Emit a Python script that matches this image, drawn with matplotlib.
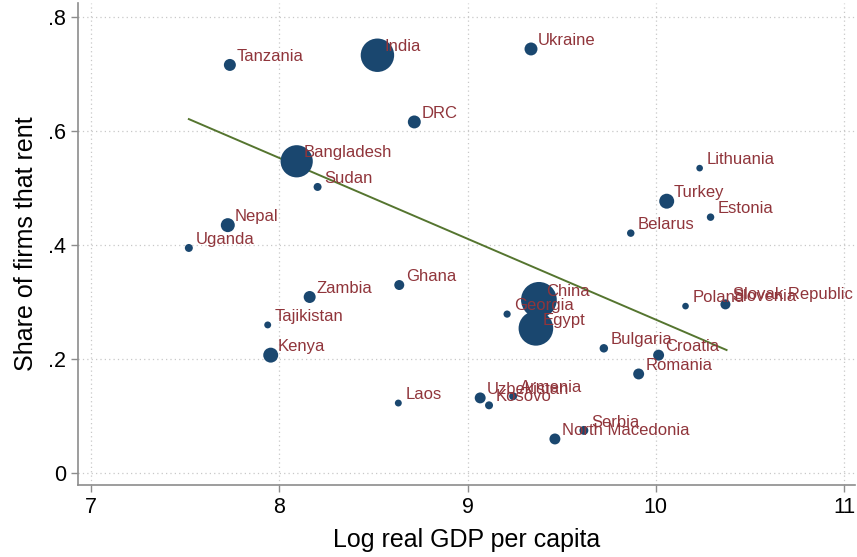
import matplotlib
matplotlib.use("Agg")
import matplotlib.pyplot as plt
import numpy as np

plt.rcParams['font.family'] = ['Liberation Sans', 'DejaVu Sans']

# country data
countries = ["Tanzania", "India", "Ukraine", "DRC", "Bangladesh", "Sudan",
             "Lithuania", "Turkey", "Estonia", "Belarus", "Nepal", "Uganda",
             "Ghana", "Zambia", "China", "Georgia", "Egypt", "Poland",
             "Slovenia", "Slovak Republic", "Tajikistan", "Kenya", "Bulgaria",
             "Croatia", "Romania", "Laos", "Uzbekistan", "Kosovo", "Armenia",
             "Serbia", "North Macedonia"]
log_gdp = [7.737, 8.521, 9.337, 8.717, 8.092, 8.203,
           10.233, 10.058, 10.291, 9.867, 7.726, 7.519,
           8.637, 8.161, 9.379, 9.210, 9.363, 10.158,
           10.370, 10.372, 7.938, 7.954, 9.724,
           10.015, 9.909, 8.632, 9.067, 9.114, 9.242,
           9.618, 9.464]
share_rent = [0.716, 0.733, 0.744, 0.616, 0.547, 0.502,
              0.535, 0.477, 0.449, 0.421, 0.435, 0.395,
              0.330, 0.309, 0.304, 0.279, 0.254, 0.293,
              0.296, 0.298, 0.260, 0.207, 0.219,
              0.207, 0.174, 0.123, 0.132, 0.119, 0.135,
              0.075, 0.060]
# marker weights (relative number of firms)
weight = [36, 280, 42, 42, 260, 16,
          11, 56, 14, 14, 49, 16,
          25, 36, 320, 13, 300, 11,
          25, 12, 12, 56, 18,
          30, 30, 12, 30, 16, 16,
          20, 30]

# linear fit line
fit_x = [7.519, 10.376]
fit_y = [0.621, 0.216]

navy = "#1a476f"
maroon = "#90353b"
green = "#55752f"
axcol = "#8c8c8c"

fig = plt.figure(figsize=(8.57, 5.57), dpi=100)
ax = fig.add_axes([0.091, 0.129, 0.907, 0.866])

ax.scatter(log_gdp, share_rent, s=np.array(weight) * 2.07, color=navy,
           edgecolors='none', zorder=3)
ax.plot(fit_x, fit_y, color=green, lw=1.4, zorder=2)

for name, x, y in zip(countries, log_gdp, share_rent):
    ax.annotate(name, (x, y), xytext=(5, 6), textcoords='offset points',
                ha='left', va='center', color=maroon, fontsize=12, zorder=4)

ax.set_xlim(6.93, 11.06)
ax.set_ylim(-0.021, 0.825)
ax.set_xticks([7, 8, 9, 10, 11])
ax.set_yticks([0, 0.2, 0.4, 0.6, 0.8])
ax.set_yticklabels(["0", ".2", ".4", ".6", ".8"])
ax.tick_params(labelsize=15.5, color=axcol, length=5, width=1)
ax.grid(True, color="#c8c8c8", linestyle=(0, (1, 2.5)), lw=0.9)
ax.set_axisbelow(True)
for side in ["top", "right"]:
    ax.spines[side].set_visible(False)
for side in ["left", "bottom"]:
    ax.spines[side].set_color(axcol)
    ax.spines[side].set_linewidth(1.2)

ax.set_xlabel("Log real GDP per capita", fontsize=18, labelpad=7)
ax.set_ylabel("Share of firms that rent", fontsize=18, labelpad=7)

fig.savefig("out.png", dpi=100)
